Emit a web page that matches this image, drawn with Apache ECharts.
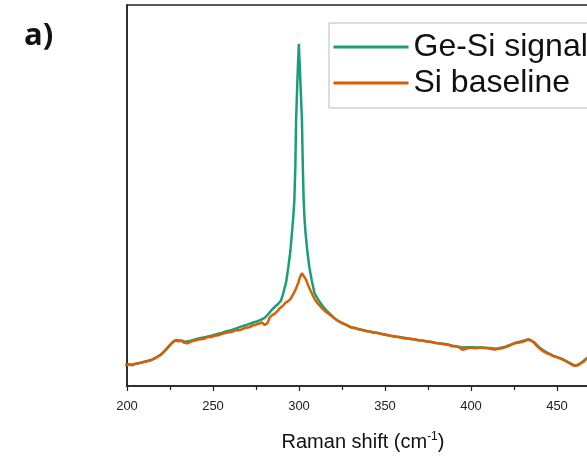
<!DOCTYPE html>
<html>
<head>
<meta charset="utf-8">
<script src="https://cdn.jsdelivr.net/npm/echarts@6/dist/echarts.min.js"></script>
<style>
  html, body { margin: 0; padding: 0; background: #fff; }
  #chart { width: 587px; height: 459px; }
</style>
</head>
<body>
<div id="chart"></div>
<script>
// x ticks (Raman shift, cm-1)
const xTicks = [200, 250, 300, 350, 400, 450]

// Si baseline: [shift, intensity a.u.]
const siBaseline = [
  [199,5.5],[201,5.7],[203,5.4],[205,5.9],[207,6.0],[209,6.2],[211,6.4],[213,6.6],[215,7.0],[217,7.4],
  [219,8.0],[221,8.8],[223,9.8],[225,10.8],[227,11.7],[228.5,12.0],[230,11.7],[231.5,12.0],[233,11.4],[235,11.2],
  [237,11.6],[239,11.9],[241,12.1],[243,12.3],[245,12.4],[247,12.9],[249,12.8],[251,13.2],[253,13.3],[255,13.6],
  [257,13.9],[259,14.1],[261,14.2],[263,14.6],[265,14.6],[267,14.9],[269,15.3],[271,15.4],[273,15.9],[275,16.1],
  [277,16.4],[278.5,16.7],[280,16.0],[281.5,16.4],[283,18.0],[284.5,18.6],[286,19.0],[287.5,19.7],[289,20.5],[290.5,21.0],
  [292,21.8],[293.5,22.2],[295,22.8],[296.5,24.0],[298,25.3],[299.5,27.0],[300.5,28.5],[301.7,29.6],[302.8,29.2],[304,28.0],
  [305,26.8],[306.5,25.2],[308,23.8],[309.5,22.5],[311,21.6],[313,20.6],[315,19.7],[317,19.0],[319,18.4],[321,17.6],
  [323,17.0],[325,16.5],[327,16.2],[329,15.6],[331,15.3],[333,15.2],[335,14.8],[337,14.7],[339,14.4],[341,14.3],
  [343,14.0],[345,14.0],[347,13.8],[349,13.5],[351,13.4],[353,13.2],[355,13.1],[357,12.9],[359,12.8],[361,12.5],
  [363,12.5],[365,12.3],[367,12.3],[369,12.0],[371,12.0],[373,11.8],[375,11.6],[377,11.6],[379,11.3],[381,11.2],
  [383,11.1],[385,10.9],[387,10.8],[389,10.4],[391,10.5],[393,10.2],[395,9.5],[396,10.0],[398,9.9],[400,10.1],
  [402,9.9],[404,10.0],[406,10.1],[408,10.0],[410,9.9],[412,9.7],[414,9.6],[416,9.8],[418,9.9],[420,10.2],
  [422,10.5],[424,11.0],[426,11.3],[428,11.4],[430,11.6],[432,11.9],[433.5,12.2],[435,11.9],[436.5,11.5],[438,10.6],
  [440,9.8],[442,9.1],[444,8.6],[446,8.3],[448,7.8],[450,7.5],[452,7.2],[454,6.8],[456,6.3],[458,5.8],
  [459.5,5.4],[460.6,5.2],[462,5.4],[463.5,5.9],[465.5,6.4],[467.4,7.3],[470,8.0]
]

// Ge-Si signal
const geSiSignal = [
  [199,5.6],[202,5.6],[205,5.8],[208,6.1],[211,6.5],[214,6.8],[217,7.5],[220,8.3],[223,9.7],[226,11.2],
  [228.5,12.1],[231,11.9],[234,11.6],[237,11.9],[240,12.3],[243,12.6],[246,12.9],[249,13.2],[252,13.6],[255,13.9],
  [258,14.4],[261,14.7],[264,15.2],[267,15.7],[270,16.1],[273,16.6],[276,17.0],[278,17.4],[280,17.9],[282,18.8],
  [284,19.9],[286,20.8],[288,21.6],[289.5,22.4],[290.9,24.4],[292.5,27.2],[293.8,31.2],[295,35.5],[295.9,40.2],[296.7,44.5],
  [297.3,48.8],[297.9,58],[298.3,69.8],[299.1,80.5],[299.9,89.8],[300.8,80],[301.7,69.8],[302.2,58],[302.7,48.8],[303.2,44],
  [303.8,40.2],[304.8,35.5],[306,31.2],[307.5,27.5],[309,24.4],[310.5,23.2],[312.3,21.9],[314.1,20.8],[316,19.8],[318,18.9],
  [320,18.0],[323,17.0],[326,16.3],[330,15.5],[335,14.9],[340,14.4],[345,14.0],[350,13.5],[355,13.0],[360,12.7],
  [365,12.4],[370,12.0],[375,11.7],[380,11.3],[385,11.0],[390,10.5],[395,10.1],[400,10.2],[405,10.1],[410,10.0],
  [415,9.8],[420,10.3],[425,11.2],[430,11.8],[433.5,12.3],[437,11.4],[440,10.0],[444,8.8],[448,7.9],[452,7.3],
  [456,6.4],[460.5,5.3],[463.5,5.9],[467.4,7.3],[470,8.0]
]

const chart = echarts.init(document.getElementById('chart'))

const option = {
  animation: false,
  backgroundColor: '#fff',
  // plot runs past the right edge, as in the cropped figure
  grid: {
    left: 127,
    width: 516,
    top: 5,
    bottom: 73,
    outerBoundsMode: 'none',
    show: true,
    borderColor: '#222',
    borderWidth: 1.5,
  },
  title: {
    text: 'a)',
    left: 19,
    top: 16,
    textStyle: {fontFamily: 'Open Sans', fontWeight: 'bold', fontSize: 31, color: '#111'},
  },
  legend: {
    orient: 'vertical',
    left: 329,
    top: 23,
    padding: [8, 4, 9, 3],
    itemWidth: 75,
    itemHeight: 14,
    itemGap: 4,
    backgroundColor: '#fff',
    borderColor: '#bbb',
    borderWidth: 1,
    itemStyle: {opacity: 0},
    lineStyle: {width: 3},
    textStyle: {fontFamily: 'Liberation Sans', fontSize: 32, lineHeight: 32, color: '#111'},
  },
  xAxis: {
    type: 'value',
    min: 200,
    max: 500,
    interval: 50,
    axisLine: {lineStyle: {color: '#222', width: 1.5}},
    axisTick: {length: 5, lineStyle: {color: '#222', width: 1.2}},
    minorTick: {show: true, splitNumber: 2, length: 4, lineStyle: {color: '#222', width: 1.2}},
    splitLine: {show: false},
    axisLabel: {
      fontFamily: 'Liberation Sans',
      fontSize: 13,
      color: '#222',
      margin: 14,
      formatter: (v) => (xTicks.includes(v) ? String(v) : ''),
    },
  },
  yAxis: {
    type: 'value',
    min: 0,
    max: 100,
    axisLine: {show: true, lineStyle: {color: '#222', width: 1.5}},
    axisTick: {show: false},
    axisLabel: {show: false},
    splitLine: {show: false},
  },
  graphic: [
    {
      type: 'text',
      x: 363,
      y: 442,
      style: {
        text: '{a|Raman shift (cm}{s|-1}{a|)}',
        align: 'center',
        verticalAlign: 'middle',
        rich: {
          a: {fontFamily: 'Liberation Sans', fontSize: 20, fill: '#111'},
          s: {fontFamily: 'Liberation Sans', fontSize: 12, fill: '#111', verticalAlign: 'top', padding: [0, 0, 10, 0]},
        },
      },
    },
  ],
  series: [
    {
      name: 'Ge-Si signal',
      type: 'line',
      data: geSiSignal,
      symbol: 'none',
      lineStyle: {color: '#1b9e77', width: 2.5},
      itemStyle: {color: '#1b9e77'},
    },
    {
      name: 'Si baseline',
      type: 'line',
      data: siBaseline,
      symbol: 'none',
      lineStyle: {color: '#d95f02', width: 2.5},
      itemStyle: {color: '#d95f02'},
    },
  ],
}

chart.setOption(option)
</script>
</body>
</html>
